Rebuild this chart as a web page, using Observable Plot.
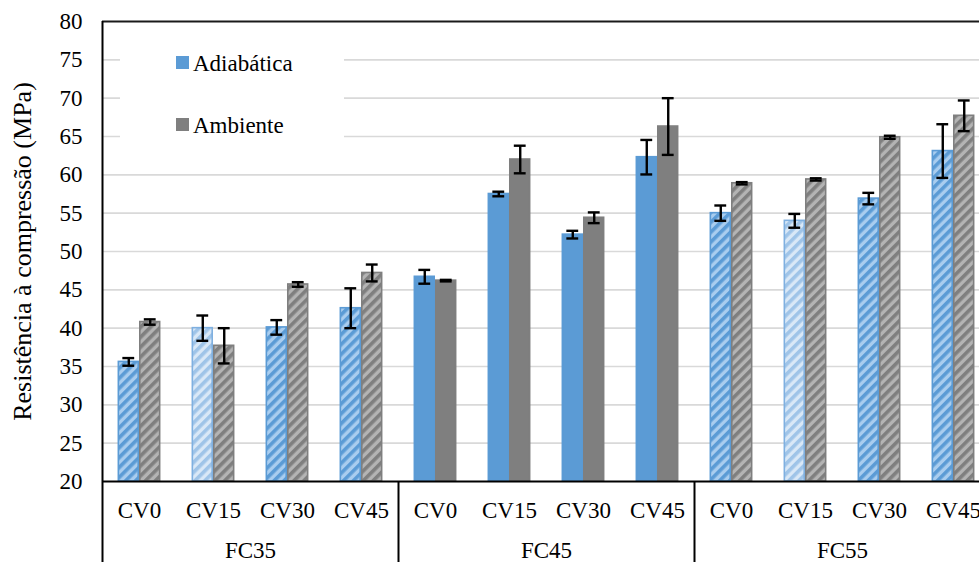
<!DOCTYPE html>
<html><head><meta charset="utf-8">
<script src="https://cdn.jsdelivr.net/npm/d3@7"></script>
<script src="https://cdn.jsdelivr.net/npm/@observablehq/plot@0.6"></script>
<style>
html,body{margin:0;padding:0;overflow:hidden;background:#fff;}
#chart{width:979px;height:562px;overflow:hidden;}
#chart svg{max-width:none !important;font-family:"Liberation Serif","Times New Roman",serif !important;}
#chart svg text{font-family:"Liberation Serif","Times New Roman",serif !important;}
</style></head><body>
<svg width="0" height="0" style="position:absolute">
<defs>
<pattern id="hatchBlue" patternUnits="userSpaceOnUse" width="7" height="7" patternTransform="rotate(45)">
<rect width="7" height="7" fill="#a9cdef"/><rect width="3.6" height="7" fill="#5b9bd5"/></pattern>
<pattern id="hatchBlueLight" patternUnits="userSpaceOnUse" width="7" height="7" patternTransform="rotate(45)">
<rect width="7" height="7" fill="#d9e8f7"/><rect width="3.6" height="7" fill="#9fc4e8"/></pattern>
<pattern id="hatchGray" patternUnits="userSpaceOnUse" width="7" height="7" patternTransform="rotate(45)">
<rect width="7" height="7" fill="#b4b4b4"/><rect width="3.6" height="7" fill="#7f7f7f"/></pattern>
</defs></svg>
<div id="chart"></div>
<script>
const groups = ["FC35", "FC45", "FC55"];
const mixes = ["CV0", "CV15", "CV30", "CV45"];
const seriesNames = ["Adiabática", "Ambiente"];
const adiabatica    = [35.6, 40.0, 40.1, 42.6, 46.7, 57.5, 52.2, 62.3, 55.0, 54.0, 56.9, 63.1];
const adiabaticaErr = [0.5, 1.65, 0.95, 2.6, 0.9, 0.3, 0.5, 2.25, 1.0, 0.9, 0.75, 3.5];
const ambiente      = [40.8, 37.7, 45.7, 47.2, 46.2, 62.0, 54.4, 66.3, 58.9, 59.4, 64.9, 67.7];
const ambienteErr   = [0.35, 2.3, 0.3, 1.1, 0.1, 1.8, 0.7, 3.7, 0.15, 0.15, 0.2, 2.0];
const yTicks = [20, 25, 30, 35, 40, 45, 50, 55, 60, 65, 70, 75, 80];
const gridTicks = [25, 30, 35, 40, 45, 50, 55, 60, 65, 70, 75];
const yTitle = "Resistência à compressão (MPa)";

const rows = [];
groups.forEach((g, gi) => mixes.forEach((m, mi) => {
  const i = gi * 4 + mi;
  rows.push({slot: i, group: g, mix: m, series: seriesNames[0], side: 0, value: adiabatica[i], err: adiabaticaErr[i]});
  rows.push({slot: i, group: g, mix: m, series: seriesNames[1], side: 1, value: ambiente[i], err: ambienteErr[i]});
}));

const pad = 0.21, bw = 0.29, cap = 0.08;
const bx1 = d => d.slot + pad + d.side * bw;
const bx2 = d => bx1(d) + bw;
const bxc = d => bx1(d) + bw / 2;
const fillOf = d => d.group === "FC45"
  ? (d.side === 0 ? "#5b9bd5" : "#7f7f7f")
  : (d.side === 0 ? (d.mix === "CV15" ? "url(#hatchBlueLight)" : "url(#hatchBlue)") : "url(#hatchGray)");
const strokeOf = d => d.side === 0 ? (d.mix === "CV15" && d.group !== "FC45" ? "#7fb0e0" : "#5b9bd5") : "#7f7f7f";

const font = "Liberation Serif, Times New Roman, serif";
const chart = Plot.plot({
  width: 992, height: 562,
  marginLeft: 102, marginRight: 2, marginTop: 21, marginBottom: 81,
  x: {domain: [0, 12]},
  y: {domain: [20, 80]},
  color: {type: "identity"},
  style: {fontFamily: font, color: "#000", background: "#fff", maxWidth: "none"},
  marks: [
    Plot.ruleY(gridTicks, {stroke: "#d9d9d9", strokeWidth: 1.6}),
    Plot.rect(rows, {x1: bx1, x2: bx2, y1: () => 20, y2: "value", fill: fillOf, stroke: strokeOf, strokeWidth: 1.6, insetLeft: 0.8, insetRight: 0.8}),
    Plot.ruleX(rows, {x: bxc, y1: d => d.value - d.err, y2: d => d.value + d.err, stroke: "#000", strokeWidth: 2.4}),
    Plot.ruleY(rows, {y: d => d.value - d.err, x1: d => bxc(d) - cap, x2: d => bxc(d) + cap, stroke: "#000", strokeWidth: 2.4}),
    Plot.ruleY(rows, {y: d => d.value + d.err, x1: d => bxc(d) - cap, x2: d => bxc(d) + cap, stroke: "#000", strokeWidth: 2.4}),
    Plot.ruleY([20], {stroke: "#000", strokeWidth: 2}),
    Plot.ruleY([80], {stroke: "#1a1a1a", strokeWidth: 2}),
    Plot.ruleX([0], {stroke: "#000", strokeWidth: 2}),
    Plot.axisY(yTicks, {tickSize: 0, tickPadding: 20, fontSize: 23, label: null}),
    Plot.axisX(d3.range(12).map(i => i + 0.5), {tickSize: 0, tickPadding: 20, fontSize: 23, label: null, tickFormat: v => mixes[Math.floor(v) % 4]}),
    Plot.axisX([2, 6, 10], {tickSize: 0, tickPadding: 60, fontSize: 23, label: null, tickFormat: v => groups[(v - 2) / 4]}),
    Plot.axisX([0, 4, 8, 12], {tickSize: 81, tickFormat: () => "", label: null, stroke: "#000", strokeWidth: 2}),
    Plot.text([yTitle], {frameAnchor: "left", dx: -80, rotate: -90, fontSize: 26, textAnchor: "middle", lineAnchor: "middle", fill: "#000"})
  ]
});

// legend placed inside the plot area, as in the reference
const svg = d3.select(chart);
const lg = svg.append("g").attr("font-size", 23).attr("fill", "#000").attr("text-anchor", "start");
lg.append("rect").attr("x", 120).attr("y", 40).attr("width", 224).attr("height", 118).attr("fill", "#fff");
const legendItems = [{name: seriesNames[0], color: "#5b9bd5"}, {name: seriesNames[1], color: "#7f7f7f"}];
legendItems.forEach((it, k) => {
  const yy = 56 + k * 62;
  lg.append("rect").attr("x", 176).attr("y", yy).attr("width", 13).attr("height", 13).attr("fill", it.color);
  lg.append("text").attr("x", 193).attr("y", yy + 14.5).text(it.name);
});

document.getElementById("chart").appendChild(chart);
</script>
</body></html>
